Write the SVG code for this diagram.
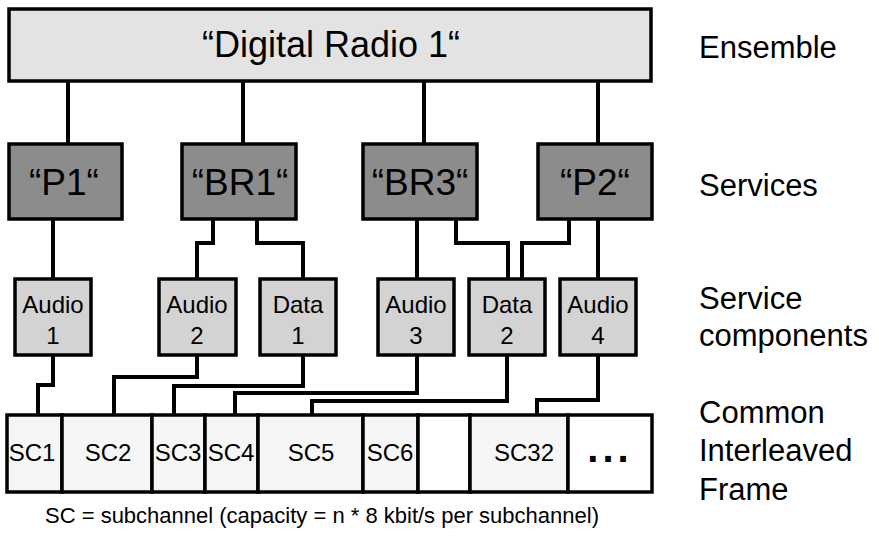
<svg xmlns="http://www.w3.org/2000/svg" width="879" height="537" viewBox="0 0 879 537">
<style>
text{font-family:"Liberation Sans",Arial,sans-serif;fill:#000}
.box{stroke:#000;stroke-width:3.5}
.ens{fill:#e3e3e3}
.svc{fill:#8c8c8c}
.cmp{fill:#d3d3d3}
.sc{fill:#f6f6f6}
.wh{fill:#fff}
.t36{font-size:36px;text-anchor:middle}
.t37{font-size:37px;text-anchor:middle}
.t24{font-size:24px;text-anchor:middle}
.lab{font-size:31px}
.conn{fill:none;stroke:#000;stroke-width:4;stroke-linejoin:miter}
</style>
<rect width="879" height="537" fill="#fff"/>
<g id="connectors">
<path class="conn" d="M68 81V144M243 81V144M424 81V144M598 81V144"/>
<path class="conn" d="M53 219V279M213 219V243H197V279M257 219V243H303V279M417 219V279M456 219V243H508V279M569 219V243H522V279M598 219V279"/>
<path class="conn" d="M53 355V385H38V415M197 355V377H114V415M303 355V386H174V415M417 355V393H235V415M507 355V401H312V415M598 355V400H537V415"/>
</g>
<g id="ensemble"><rect class="box ens" x="9" y="9" width="642" height="72"/><text class="t36" x="331" y="57">“Digital Radio 1“</text></g>
<g id="svc-p1"><rect class="box svc" x="9" y="144" width="113" height="75"/><text class="t37" x="64" y="195">“P1“</text></g>
<g id="svc-br1"><rect class="box svc" x="182" y="144" width="114" height="75"/><text class="t37" x="240" y="195">“BR1“</text></g>
<g id="svc-br3"><rect class="box svc" x="363" y="144" width="114" height="75"/><text class="t37" x="420" y="195">“BR3“</text></g>
<g id="svc-p2"><rect class="box svc" x="538" y="144" width="114" height="75"/><text class="t37" x="595" y="195">“P2“</text></g>
<g id="cmp-audio1"><rect class="box cmp" x="15" y="279" width="76" height="76"/><text class="t24" x="53" y="313">Audio</text><text class="t24" x="53" y="344">1</text></g>
<g id="cmp-audio2"><rect class="box cmp" x="159" y="279" width="77" height="76"/><text class="t24" x="197" y="313">Audio</text><text class="t24" x="197" y="344">2</text></g>
<g id="cmp-data1"><rect class="box cmp" x="260" y="279" width="76" height="76"/><text class="t24" x="298" y="313">Data</text><text class="t24" x="298" y="344">1</text></g>
<g id="cmp-audio3"><rect class="box cmp" x="378" y="279" width="76" height="76"/><text class="t24" x="416" y="313">Audio</text><text class="t24" x="416" y="344">3</text></g>
<g id="cmp-data2"><rect class="box cmp" x="469" y="279" width="76" height="76"/><text class="t24" x="507" y="313">Data</text><text class="t24" x="507" y="344">2</text></g>
<g id="cmp-audio4"><rect class="box cmp" x="560" y="279" width="76" height="76"/><text class="t24" x="598" y="313">Audio</text><text class="t24" x="598" y="344">4</text></g>
<g id="sc1"><rect class="box sc" x="7" y="415" width="55" height="77"/><text class="t24" x="32" y="461">SC1</text></g>
<g id="sc2"><rect class="box sc" x="62" y="415" width="90" height="77"/><text class="t24" x="108" y="461">SC2</text></g>
<g id="sc3"><rect class="box sc" x="152" y="415" width="53" height="77"/><text class="t24" x="178" y="461">SC3</text></g>
<g id="sc4"><rect class="box sc" x="205" y="415" width="53" height="77"/><text class="t24" x="231" y="461">SC4</text></g>
<g id="sc5"><rect class="box sc" x="258" y="415" width="105" height="77"/><text class="t24" x="311" y="461">SC5</text></g>
<g id="sc6"><rect class="box sc" x="363" y="415" width="55" height="77"/><text class="t24" x="390" y="461">SC6</text></g>
<g id="sc-empty"><rect class="box wh" x="418" y="415" width="52" height="77"/></g>
<g id="sc32"><rect class="box sc" x="470" y="415" width="98" height="77"/><text class="t24" x="524" y="461">SC32</text></g>
<g id="sc-more"><rect class="box wh" x="568" y="415" width="84" height="77"/><text x="610" y="462" style="font-size:40px;font-weight:bold;text-anchor:middle;letter-spacing:4px">...</text></g>
<text class="lab" x="699" y="58">Ensemble</text>
<text class="lab" x="699" y="196">Services</text>
<text class="lab" x="699" y="309">Service</text>
<text class="lab" x="699" y="346">components</text>
<text class="lab" x="699" y="423">Common</text>
<text class="lab" x="699" y="461">Interleaved</text>
<text class="lab" x="699" y="500">Frame</text>
<text x="322" y="523" style="font-size:22px;text-anchor:middle">SC = subchannel (capacity = n * 8 kbit/s per subchannel)</text>
</svg>
